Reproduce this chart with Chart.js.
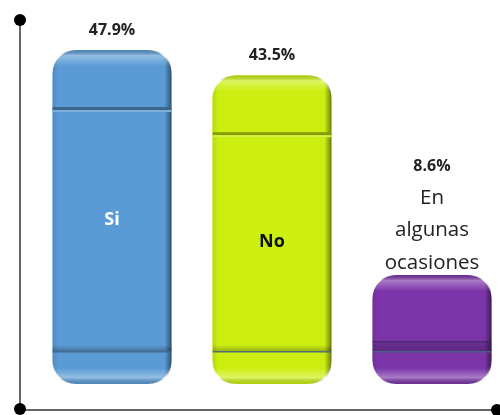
<!DOCTYPE html>
<html>
<head>
<meta charset="utf-8">
<script src="https://cdn.jsdelivr.net/npm/chart.js@4.4.1/dist/chart.umd.min.js"></script>
<style>
html,body{margin:0;padding:0;background:#fff;overflow:hidden;width:500px;height:415px;}
#wrap{position:absolute;left:0;top:0;width:512px;height:415px;}
</style>
</head>
<body>
<div id="wrap"><canvas id="c" width="512" height="415"></canvas></div>
<script>
const categories = ["Si", "No", "En algunas ocasiones"];
const values = [47.9, 43.5, 8.6];
const valueLabels = ["47.9%", "43.5%", "8.6%"];
const barColors = ["#5B9BD5", "#CCEE11", "#7B35A8"];
const categoryTextColors = ["#FFFFFF", "#111111", "#222222"];

function shade(hex, f) {
  const n = parseInt(hex.slice(1), 16);
  let r = (n >> 16) & 255, g = (n >> 8) & 255, b = n & 255;
  if (f < 0) { r = r * (1 + f); g = g * (1 + f); b = b * (1 + f); }
  else { r = r + (255 - r) * f; g = g + (255 - g) * f; b = b + (255 - b) * f; }
  return `rgb(${Math.round(r)},${Math.round(g)},${Math.round(b)})`;
}

function rrPath(ctx, x, y, w, h, r) {
  ctx.beginPath();
  ctx.moveTo(x + r, y);
  ctx.lineTo(x + w - r, y);
  ctx.quadraticCurveTo(x + w, y, x + w, y + r);
  ctx.lineTo(x + w, y + h - r);
  ctx.quadraticCurveTo(x + w, y + h, x + w - r, y + h);
  ctx.lineTo(x + r, y + h);
  ctx.quadraticCurveTo(x, y + h, x, y + h - r);
  ctx.lineTo(x, y + r);
  ctx.quadraticCurveTo(x, y, x + r, y);
  ctx.closePath();
}

const bevelPlugin = {
  id: 'bevel',
  afterDatasetsDraw(chart) {
    const ctx = chart.ctx;
    const meta = chart.getDatasetMeta(0);
    meta.data.forEach((bar, i) => {
      const col = barColors[i];
      const w = bar.width, x = bar.x - w / 2, top = bar.y, bot = bar.base, h = bot - top;
      const r = 24;
      ctx.save();
      rrPath(ctx, x, top, w, h, r);
      ctx.clip();
      // side shading
      let g = ctx.createLinearGradient(x, 0, x + w, 0);
      g.addColorStop(0, 'rgba(0,0,0,0.10)');
      g.addColorStop(0.05, 'rgba(0,0,0,0)');
      g.addColorStop(0.94, 'rgba(0,0,0,0)');
      g.addColorStop(0.985, 'rgba(0,0,0,0.35)');
      g.addColorStop(1, 'rgba(0,0,0,0.55)');
      ctx.fillStyle = g;
      ctx.fillRect(x, top, w, h);
      // top highlight
      g = ctx.createLinearGradient(0, top, 0, top + 16);
      g.addColorStop(0, 'rgba(0,0,0,0.15)');
      g.addColorStop(0.35, 'rgba(255,255,255,0.35)');
      g.addColorStop(1, 'rgba(255,255,255,0)');
      ctx.fillStyle = g;
      ctx.fillRect(x, top, w, 16);
      // bottom highlight
      g = ctx.createLinearGradient(0, bot - 16, 0, bot);
      g.addColorStop(0, 'rgba(255,255,255,0)');
      g.addColorStop(0.6, 'rgba(255,255,255,0.35)');
      g.addColorStop(1, 'rgba(0,0,0,0.12)');
      ctx.fillStyle = g;
      ctx.fillRect(x, bot - 16, w, 16);
      const botBand = bot - 33;
      if (h > 150) {
        const topBand = top + 57;
        ctx.fillStyle = shade(col, -0.35);
        ctx.fillRect(x, topBand, w, 3);
        ctx.fillStyle = shade(col, 0.2);
        ctx.fillRect(x, topBand + 3, w, 2);
        g = ctx.createLinearGradient(0, botBand - 6, 0, botBand);
        g.addColorStop(0, 'rgba(0,0,0,0)');
        g.addColorStop(1, 'rgba(0,0,0,0.25)');
        ctx.fillStyle = g;
        ctx.fillRect(x, botBand - 6, w, 6);
      } else {
        const tb = bot - 43;
        ctx.fillStyle = 'rgba(40,40,70,0.55)';
        ctx.fillRect(x, tb, w, 1.5);
        g = ctx.createLinearGradient(0, tb, 0, botBand);
        g.addColorStop(0, 'rgba(0,0,0,0.12)');
        g.addColorStop(1, 'rgba(0,0,0,0.22)');
        ctx.fillStyle = g;
        ctx.fillRect(x, tb + 1.5, w, botBand - tb - 1.5);
      }
      ctx.fillStyle = 'rgba(70,100,130,0.9)';
      ctx.fillRect(x, botBand, w, 1.5);
      ctx.restore();

      // labels
      ctx.save();
      ctx.textAlign = 'center';
      ctx.textBaseline = 'middle';
      ctx.font = 'bold 16px "Open Sans", sans-serif';
      ctx.fillStyle = '#222';
      if (h > 150) {
        ctx.fillText(valueLabels[i], bar.x, top - 20);
        ctx.font = 'bold 18px "Open Sans", sans-serif';
        ctx.fillStyle = categoryTextColors[i];
        ctx.fillText(categories[i], bar.x, (top + bot) / 2 + (i === 0 ? 3 : 12));
      } else {
        const words = categories[i].split(' ');
        const lines = [words[0], words[1], words.slice(2).join(' ')];
        ctx.font = '20.5px "Open Sans", sans-serif';
        ctx.fillStyle = '#222';
        lines.forEach((t, k) => ctx.fillText(t, bar.x, top - 12 - (lines.length - 1 - k) * 32.5));
        ctx.font = 'bold 16px "Open Sans", sans-serif';
        ctx.fillText(valueLabels[i], bar.x, top - 12 - lines.length * 32.5 + 1);
      }
      ctx.restore();
    });
  },
  afterDraw(chart) {
    const ctx = chart.ctx;
    const a = chart.chartArea;
    const ax = a.left - 12;
    const ay = a.bottom + 2;
    ctx.save();
    ctx.strokeStyle = '#666';
    ctx.lineWidth = 2;
    ctx.beginPath();
    ctx.moveTo(ax, a.top);
    ctx.lineTo(ax, ay);
    ctx.moveTo(ax, ay);
    ctx.lineTo(497, ay);
    ctx.stroke();
    ctx.fillStyle = '#000';
    [[ax, a.top], [ax, ay - 1], [497, ay]].forEach(p => {
      ctx.beginPath();
      ctx.arc(p[0], p[1], 6, 0, Math.PI * 2);
      ctx.fill();
    });
    ctx.restore();
  }
};

new Chart(document.getElementById('c'), {
  type: 'bar',
  data: {
    labels: categories,
    datasets: [{
      data: values,
      base: -10.44,
      backgroundColor: barColors,
      borderWidth: 0,
      borderRadius: 24,
      borderSkipped: false,
      categoryPercentage: 1,
      barPercentage: 0.745
    }]
  },
  options: {
    responsive: false,
    animation: false,
    layout: { padding: { left: 32, right: 0, top: 20, bottom: 7 } },
    plugins: { legend: { display: false }, tooltip: { enabled: false } },
    scales: {
      x: { display: false },
      y: { display: false, min: -14.63, max: 53.14 }
    }
  },
  plugins: [bevelPlugin]
});
</script>
</body>
</html>
